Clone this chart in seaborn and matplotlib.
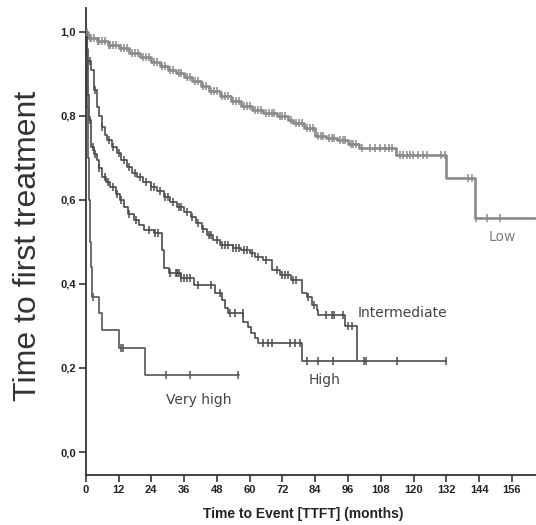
import numpy as np
import pandas as pd
import matplotlib
matplotlib.use("Agg")
import matplotlib.pyplot as plt
import seaborn as sns

# ---------------- data ----------------
low_t = [0, 1, 4, 8, 12, 16, 20, 24, 27, 30, 33, 36, 39, 42, 45, 49, 53, 57, 61, 65,
         70, 74, 76, 80, 84, 88, 92, 96, 100, 113.6, 132, 142.4]
low_s = [1.0, 0.986, 0.978, 0.968, 0.962, 0.950, 0.940, 0.928, 0.918, 0.910, 0.902,
         0.893, 0.882, 0.870, 0.858, 0.848, 0.836, 0.824, 0.814, 0.808, 0.800, 0.790,
         0.782, 0.770, 0.752, 0.748, 0.742, 0.734, 0.724, 0.707, 0.652, 0.558]
low_end = 164.5
low_cens = [0.5, 1.5, 2, 3, 4.5, 5, 6, 7, 8.5, 9, 10, 11, 13, 14, 15, 17, 18, 19, 21, 22,
            23, 25, 26, 28, 29, 31, 32, 34, 35, 37, 38, 40, 41, 43, 44, 46, 47, 48, 50,
            51, 52, 54, 55, 56, 58, 59, 60, 62, 63, 64, 66, 67, 68, 69, 71, 72, 73, 75,
            77, 78, 79, 81, 82, 83, 85, 86, 87, 89, 90, 91, 93, 94, 95, 97, 98, 99, 101,
            104, 105.8, 107.6, 109.4, 111, 112, 115, 116, 117.5, 118.6, 119.7, 121.5,
            123.3, 125, 130, 131.4, 139.8, 141.3, 143, 146.8, 151.5]

int_t = [0, 0.5, 1, 1.8, 2.9, 4, 5, 5.9, 7, 7.7, 9.5, 11.3, 13, 15, 17, 18.7, 21, 23.8,
         26, 28.5, 31, 33.3, 36, 38.4, 40.5, 42.5, 44.2, 46.5, 49, 53.8, 57, 60, 62,
         64.8, 68, 71, 75, 79, 80.9, 82.7, 84.5, 85, 94.8, 99.2]
int_s = [1.0, 0.96, 0.93, 0.91, 0.862, 0.821, 0.80, 0.774, 0.755, 0.743, 0.725, 0.712,
         0.695, 0.679, 0.665, 0.655, 0.643, 0.631, 0.62, 0.607, 0.595, 0.583, 0.572,
         0.56, 0.545, 0.53, 0.517, 0.505, 0.493, 0.486, 0.48, 0.474, 0.465, 0.457,
         0.433, 0.421, 0.41, 0.379, 0.369, 0.35, 0.338, 0.326, 0.30, 0.217]
int_end = 132
int_cens = [1.5, 3.5, 6, 8.5, 10, 12, 14, 16, 18, 20, 22, 24, 25, 27, 29, 30, 32, 34, 35,
            37, 39, 41, 43, 45, 46, 48, 50, 51, 52, 54, 55, 56, 58, 59, 61, 63, 66, 70,
            72, 73, 74, 76, 77, 81.5, 83.5, 88, 90, 91, 94, 96, 97.5, 102, 102.7, 114, 132]

high_t = [0, 0.4, 0.8, 1.1, 1.8, 3, 4, 5, 5.9, 7.5, 9, 11, 12.5, 13.9, 15.5, 17.6, 19.5,
          21.2, 24.9, 27.8, 28.5, 30.3, 34.8, 39.5, 47.2, 49.7, 50.9, 52.1, 57.6, 59.4,
          60.6, 61.9, 63.1, 79]
high_s = [1.0, 0.93, 0.85, 0.79, 0.726, 0.71, 0.695, 0.675, 0.655, 0.643, 0.631, 0.615,
          0.60, 0.583, 0.567, 0.552, 0.54, 0.529, 0.521, 0.481, 0.438, 0.426, 0.414,
          0.398, 0.379, 0.362, 0.343, 0.331, 0.31, 0.298, 0.283, 0.271, 0.26, 0.217]
high_end = 99
high_cens = [0.6, 1.5, 2.5, 3.5, 5, 7, 8, 10, 11.5, 13, 16, 18.5, 23, 25.5, 26.5, 31, 33,
             33.5, 34, 35, 36, 37, 38, 41, 46, 49, 52.7, 54.5, 57.5, 64.8, 66.6, 68,
             74.7, 76.5, 78.3, 80.9, 84.9, 90.4]

vh_t = [0, 0.3, 0.6, 0.9, 1.2, 1.5, 1.8, 2.3, 4.8, 5.8, 12, 21.6]
vh_s = [1.0, 0.93, 0.82, 0.70, 0.60, 0.50, 0.44, 0.37, 0.331, 0.29, 0.248, 0.183]
vh_end = 56
vh_cens = [2.8, 12.8, 13.8, 29.2, 38.3, 55.7]

groups = ["Low", "Intermediate", "High", "Very high"]
x_ticks = [0, 12, 24, 36, 48, 60, 72, 84, 96, 108, 120, 132, 144, 156]
y_ticks = [0.0, 0.2, 0.4, 0.6, 0.8, 1.0]
y_tick_labels = ["0,0", "0,2", "0,4", "0,6", "0,8", "1,0"]

# ---------------- styling ----------------
sns.set_style("ticks")
plt.rcParams["font.family"] = ["DejaVu Sans"]

colors = {"Low": "#8a8a8a", "Intermediate": "#4d4d4d", "High": "#4a4a4a",
          "Very high": "#555555"}
widths = {"Low": 1.9, "Intermediate": 1.2, "High": 1.2, "Very high": 1.2}

series = {
    "Low": (low_t, low_s, low_end, low_cens),
    "Intermediate": (int_t, int_s, int_end, int_cens),
    "High": (high_t, high_s, high_end, high_cens),
    "Very high": (vh_t, vh_s, vh_end, vh_cens),
}

fig = plt.figure(figsize=(5.36, 5.25), dpi=100)
ax = fig.add_axes([0.160, 0.095, 0.84, 0.89])

for g in groups:
    t, s, end, cens = series[g]
    tt = np.array(list(t) + [end], dtype=float)
    ss = np.array(list(s) + [s[-1]], dtype=float)
    df = pd.DataFrame({"time": tt, "surv": ss})
    sns.lineplot(data=df, x="time", y="surv", ax=ax, drawstyle="steps-post",
                 color=colors[g], linewidth=widths[g], estimator=None, legend=False)
    c = np.array(cens, dtype=float)
    idx = np.searchsorted(np.array(t, dtype=float), c, side="right") - 1
    cy = np.array(s)[idx]
    dfc = pd.DataFrame({"time": c, "surv": cy})
    sns.scatterplot(data=dfc, x="time", y="surv", ax=ax, marker="|", s=32,
                    color=colors[g], linewidth=1.1, legend=False, zorder=3)

ax.set_xlim(0, 164.8)
ax.set_ylim(-0.055, 1.057)
ax.set_xticks(x_ticks)
ax.set_xticklabels([str(v) for v in x_ticks])
ax.set_yticks(y_ticks)
ax.set_yticklabels(y_tick_labels)

for lab in ax.get_xticklabels() + ax.get_yticklabels():
    lab.set_fontfamily("Liberation Sans")
    lab.set_fontweight("bold")
    lab.set_fontsize(8)
    lab.set_color("#222222")

ax.tick_params(axis="both", direction="out", length=5, width=1.2, color="#333333", pad=2)
for side in ["top", "right"]:
    ax.spines[side].set_visible(False)
for side in ["left", "bottom"]:
    ax.spines[side].set_linewidth(1.3)
    ax.spines[side].set_color("#333333")

ax.set_ylabel("Time to first treatment", fontsize=23, family="Liberation Sans",
              color="#333333")
ax.yaxis.set_label_coords(-0.095, 0.49)
ax.set_xlabel("Time to Event [TTFT] (months)", fontsize=10, family="Liberation Sans",
              fontweight="bold", color="#222222")
ax.xaxis.set_label_coords(0.484, -0.068)

ax.text(147.5, 0.512, "Low", fontsize=10, color="#808080", va="center", ha="left")
ax.text(99.6, 0.331, "Intermediate", fontsize=10, color="#444444", va="center", ha="left")
ax.text(81.6, 0.171, "High", fontsize=10, color="#444444", va="center", ha="left")
ax.text(29.3, 0.124, "Very high", fontsize=10, color="#444444", va="center", ha="left")

fig.savefig("out.png", dpi=100)
